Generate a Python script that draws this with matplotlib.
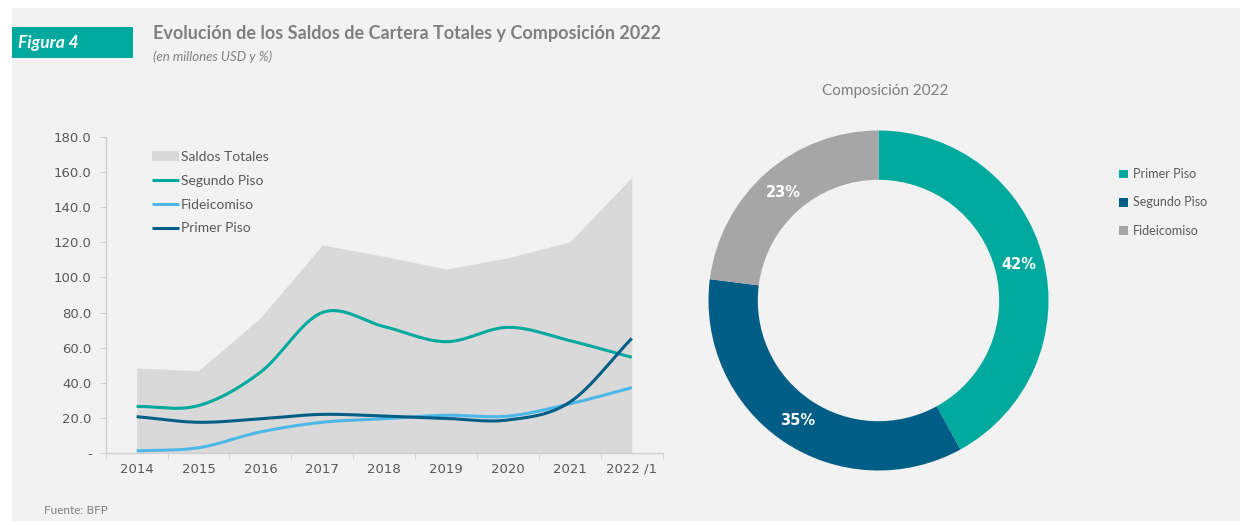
import numpy as np
import matplotlib
matplotlib.use("Agg")
import matplotlib.pyplot as plt
from matplotlib.patches import Rectangle

plt.rcParams["font.family"] = ["Lato", "DejaVu Sans"]

# portfolio balances, millions USD
years = ["2014", "2015", "2016", "2017", "2018", "2019", "2020", "2021", "2022 /1"]
saldos_totales = [48.4, 46.9, 77.0, 118.5, 112.0, 104.8, 111.2, 120.3, 157.0]
segundo_piso = [26.5, 27.0, 46.0, 80.0, 72.0, 63.4, 71.6, 64.0, 54.5]
fideicomiso = [1.2, 3.0, 12.0, 17.5, 19.5, 21.5, 21.0, 28.0, 37.2]
primer_piso = [20.7, 17.5, 19.5, 22.0, 21.0, 19.7, 18.8, 29.0, 65.3]

# 2022 composition
comp_labels = ["Primer Piso", "Segundo Piso", "Fideicomiso"]
comp_values = [42, 35, 23]

BG = "#f2f2f2"
TEAL = "#00a99d"
NAVY = "#005e86"
SKY = "#4db8e8"
GREY = "#a6a6a6"
TXT = "#595959"
TICKFONT = ["DejaVu Sans"]


def smooth(y, n=30):
    """Catmull-Rom curve through the points (Excel-style smoothed line)."""
    x = np.arange(len(y), dtype=float)
    y = np.asarray(y, dtype=float)
    px = np.concatenate([[2 * x[0] - x[1]], x, [2 * x[-1] - x[-2]]])
    py = np.concatenate([[2 * y[0] - y[1]], y, [2 * y[-1] - y[-2]]])
    xs, ys = [], []
    t = np.linspace(0, 1, n, endpoint=False)
    for i in range(1, len(px) - 2):
        for p, out in ((py, ys), (px, xs)):
            a0, a1, a2, a3 = p[i - 1], p[i], p[i + 1], p[i + 2]
            out.append(0.5 * (2 * a1 + (-a0 + a2) * t
                              + (2 * a0 - 5 * a1 + 4 * a2 - a3) * t ** 2
                              + (-a0 + 3 * a1 - 3 * a2 + a3) * t ** 3))
    xs.append([x[-1]]); ys.append([y[-1]])
    return np.concatenate(xs), np.concatenate(ys)


fig = plt.figure(figsize=(12.48, 5.25), dpi=100, facecolor="white")
fig.patches.append(Rectangle((12 / 1248, 4 / 525), 1228 / 1248, 513 / 525,
                             transform=fig.transFigure, facecolor=BG,
                             edgecolor="none", zorder=-10))

# header
fig.patches.append(Rectangle((12 / 1248, 1 - 58 / 525), 121 / 1248, 31 / 525,
                             transform=fig.transFigure, facecolor=TEAL,
                             edgecolor="none", zorder=-5))
fig.text(18 / 1248, 1 - 43 / 525, "Figura 4", color="white", fontsize=12.5,
         fontweight="bold", style="italic", va="center")
fig.text(153 / 1248, 1 - 33 / 525,
         "Evolución de los Saldos de Cartera Totales y Composición 2022",
         color="#7f7f7f", fontsize=13, fontweight="bold", va="center")
fig.text(153 / 1248, 1 - 57 / 525, "(en millones USD y %)", color="#7f7f7f",
         fontsize=9.5, style="italic", va="center")
fig.text(44 / 1248, 1 - 510 / 525, "Fuente: BFP", color="#7f7f7f",
         fontsize=8.5, va="center")

# line / area chart
ax = fig.add_axes([105.7 / 1248, 1 - 453 / 525, 557 / 1248, 316 / 525])
ax.set_facecolor(BG)
x = np.arange(len(years))
ax.fill_between(x, saldos_totales, color="#d9d9d9", lw=0, label="Saldos Totales")
for vals, col, lab in ((segundo_piso, TEAL, "Segundo Piso"),
                       (fideicomiso, SKY, "Fideicomiso"),
                       (primer_piso, NAVY, "Primer Piso")):
    sx, sy = smooth(vals)
    ax.plot(sx, sy, color=col, lw=2.2, label=lab, solid_capstyle="butt")
ax.set_xlim(-0.5, len(years) - 0.5)
ax.set_ylim(0, 180)
ax.set_yticks(np.arange(0, 181, 20))
ax.set_yticklabels(["-"] + [f"{v:.1f}" for v in np.arange(20, 181, 20)],
                   family=TICKFONT)
ax.set_xticks(x)
ax.set_xticklabels(years, family=TICKFONT)
ax.set_xticks(np.arange(-0.5, len(years)), minor=True)
ax.tick_params(axis="x", which="major", length=0, pad=7, labelsize=9.5,
               labelcolor=TXT)
ax.tick_params(axis="x", which="minor", length=4, color="#d0d0d0", direction="out")
ax.tick_params(axis="y", length=4, color="#d0d0d0", labelsize=9.5,
               labelcolor=TXT, pad=6)
for s in ("top", "right"):
    ax.spines[s].set_visible(False)
for s in ("left", "bottom"):
    ax.spines[s].set_color("#d0d0d0")
    ax.spines[s].set_linewidth(1)
leg = ax.legend(loc="upper left", bbox_to_anchor=(0.06, 0.995), frameon=False,
                fontsize=10, handlelength=2.0, handletextpad=0.1,
                labelspacing=0.85, labelcolor=TXT)

# donut
ax2 = fig.add_axes([(878.5 - 170) / 1248, (525 - 470.5) / 525, 340 / 1248, 340 / 525])
ax2.set_facecolor(BG)
wedges, texts, autotexts = ax2.pie(
    comp_values, colors=[TEAL, NAVY, GREY], startangle=90, counterclock=False,
    radius=1, wedgeprops=dict(width=0.29, edgecolor="none"),
    autopct=lambda p: f"{p:.0f}%", pctdistance=0.85,
    textprops=dict(color="white", fontweight="bold", fontsize=10.5,
                   family=TICKFONT))
ax2.set_xlim(-1, 1)
ax2.set_ylim(-1, 1)
ax2.set_aspect("equal")
ax2.axis("off")
fig.text(885 / 1248, 1 - 91 / 525, "Composición 2022", color="#7f7f7f",
         fontsize=11, ha="center", va="center")
fig.legend(wedges, comp_labels, loc="upper left",
           bbox_to_anchor=(1108 / 1248, 1 - 157 / 525), frameon=False,
           fontsize=9, handlelength=0.7, handleheight=0.7, handletextpad=0.4,
           labelspacing=1.3, labelcolor=TXT)

fig.savefig("out.png", dpi=100, facecolor=fig.get_facecolor())
